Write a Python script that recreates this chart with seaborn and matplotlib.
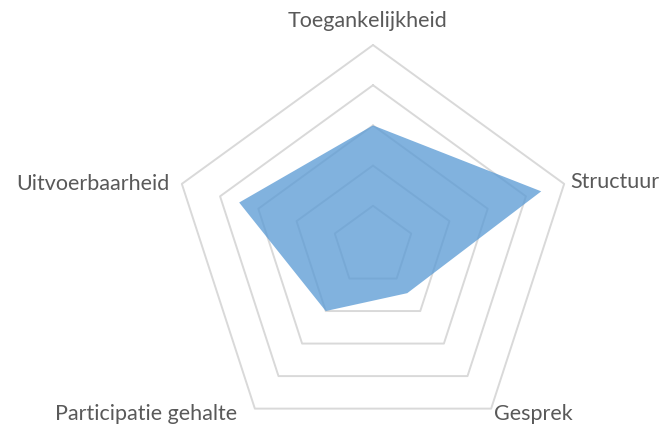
import numpy as np
import seaborn as sns
import matplotlib.pyplot as plt

# Chart data
categories = ['Toegankelijkheid', 'Structuur', 'Gesprek', 'Participatie gehalte', 'Uitvoerbaarheid']
values = [3.0, 4.4, 1.45, 2.0, 3.5]
ring_levels = [1, 2, 3, 4, 5]

sns.set_theme(style='white')
plt.rcParams['font.family'] = ['Lato', 'DejaVu Sans']

fig = plt.figure(figsize=(6.66, 4.25), dpi=100)
ax = fig.add_axes([172 / 666, -22 / 425, 402 / 666, 402 / 425], projection='polar')
ax.set_theta_offset(np.pi / 2)
ax.set_theta_direction(-1)

angles = np.linspace(0, 2 * np.pi, len(categories), endpoint=False)
closed = np.append(angles, angles[0])

# Pentagon gridlines
for lvl in ring_levels:
    ax.plot(closed, [lvl] * len(closed), color='#D9D9D9', lw=1.4, clip_on=False, zorder=1)

# Data area
ax.fill(closed, values + [values[0]], color='#5B9BD5', alpha=0.77, lw=0, zorder=2)

ax.set_ylim(0, max(ring_levels))
ax.set_xticks([])
ax.set_yticks([])
ax.grid(False)
ax.spines['polar'].set_visible(False)
ax.patch.set_visible(False)

# Category labels (pixel offsets from outer vertices)
offsets = [(-6, 18, 'center'), (6, -4, 'left'), (3, -11, 'left'),
           (-18, -11, 'right'), (-12, -6, 'right')]
for ang, name, (dx, dy, ha) in zip(angles, categories, offsets):
    ax.annotate(name, xy=(ang, max(ring_levels)), xytext=(dx, dy),
                textcoords='offset pixels', ha=ha, va='baseline',
                fontsize=15.5, color='#595959', annotation_clip=False)

fig.savefig('out.png', dpi=100)
